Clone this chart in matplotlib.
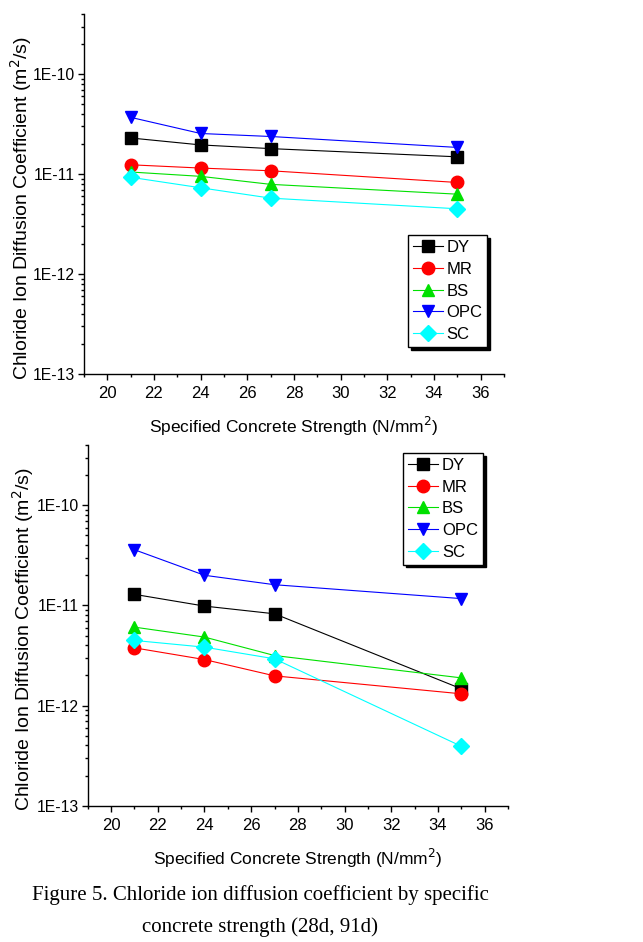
import matplotlib
matplotlib.use("Agg")
import matplotlib.pyplot as plt
from matplotlib.ticker import FixedLocator, FixedFormatter, LogLocator, NullFormatter, MultipleLocator

strength = [21, 24, 27, 35]
series_names = ["DY", "MR", "BS", "OPC", "SC"]

# 28 days
dy_28 = [2.30e-11, 1.96e-11, 1.80e-11, 1.49e-11]
mr_28 = [1.24e-11, 1.15e-11, 1.08e-11, 8.25e-12]
bs_28 = [1.05e-11, 9.50e-12, 7.90e-12, 6.30e-12]
opc_28 = [3.70e-11, 2.55e-11, 2.38e-11, 1.85e-11]
sc_28 = [9.30e-12, 7.30e-12, 5.75e-12, 4.50e-12]

# 91 days
dy_91 = [1.29e-11, 9.85e-12, 8.25e-12, 1.47e-12]
mr_91 = [3.77e-12, 2.88e-12, 1.98e-12, 1.31e-12]
bs_91 = [6.07e-12, 4.83e-12, 3.16e-12, 1.89e-12]
opc_91 = [3.60e-11, 2.00e-11, 1.61e-11, 1.17e-11]
sc_91 = [4.47e-12, 3.83e-12, 2.93e-12, 3.92e-13]

y_ticks = [1e-13, 1e-12, 1e-11, 1e-10]
y_tick_labels = ["1E-13", "1E-12", "1E-11", "1E-10"]
x_ticks = [20, 22, 24, 26, 28, 30, 32, 34, 36]

colors = ["#000000", "#ff0000", "#00e000", "#0000ff", "#00ffff"]
markers = ["s", "o", "^", "v", "D"]
msizes = [8, 9, 9, 9, 8]

plt.rcParams['font.family'] = ['Liberation Sans', 'DejaVu Sans']

fig = plt.figure(figsize=(6.43, 9.42), dpi=100)
ax1 = fig.add_axes([0.1306, 0.603, 0.6532, 0.3821])
ax2 = fig.add_axes([0.1364, 0.1447, 0.6537, 0.3829])
W, H = 643.0, 942.0


def draw(ax, data, legend_kw, ylab_xy):
    for vals, name, c, m, ms in zip(data, series_names, colors, markers, msizes):
        ax.plot(strength, vals, color=c, lw=0.8, marker=m, markersize=ms,
                markerfacecolor=c, markeredgecolor=c, label=name)
    ax.set_yscale('log')
    ax.set_ylim(1e-13, 4e-10)
    ax.set_xlim(19, 37)
    ax.yaxis.set_major_locator(FixedLocator(y_ticks))
    ax.yaxis.set_major_formatter(FixedFormatter(y_tick_labels))
    ax.yaxis.set_minor_locator(LogLocator(base=10, subs=range(2, 10)))
    ax.yaxis.set_minor_formatter(NullFormatter())
    ax.xaxis.set_major_locator(FixedLocator(x_ticks))
    ax.xaxis.set_minor_locator(MultipleLocator(1))
    for s in ['top', 'right']:
        ax.spines[s].set_visible(False)
    for s in ['left', 'bottom']:
        ax.spines[s].set_linewidth(1.0)
    ax.tick_params(which='major', direction='out', length=4, width=1, labelsize=12)
    ax.tick_params(axis='y', which='major', pad=2.5, labelsize=11.3)
    ax.tick_params(axis='x', which='major', pad=5)
    ax.tick_params(which='minor', direction='out', length=2.5, width=1)
    ax.set_xlabel("Specified Concrete Strength (N/mm$^2$)", fontsize=12.5, labelpad=10)
    fig.text(ylab_xy[0] / W, 1 - ylab_xy[1] / H,
             "Chloride Ion Diffusion Coefficient (m$^2$/s)", fontsize=14,
             rotation=90, ha='center', va='center')
    leg = ax.legend(frameon=True, fancybox=False, edgecolor='black', framealpha=1,
                    fontsize=12, handlelength=1.8, handletextpad=0.2, borderpad=0.3,
                    labelspacing=0.4, borderaxespad=0,
                    shadow={'color': 'black', 'alpha': 1}, **legend_kw)
    leg.get_frame().set_linewidth(1.0)


draw(ax1, [dy_28, mr_28, bs_28, opc_28, sc_28],
     dict(loc='lower right', bbox_to_anchor=(0.96, 0.075)), (21, 208))
draw(ax2, [dy_91, mr_91, bs_91, opc_91, sc_91],
     dict(loc='upper right', bbox_to_anchor=(0.94, 0.978)), (23, 639))

fig.text(0.405, 0.05, "Figure 5. Chloride ion diffusion coefficient by specific",
         ha='center', va='center', fontsize=15, family='Liberation Serif')
fig.text(0.405, 0.016, "concrete strength (28d, 91d)",
         ha='center', va='center', fontsize=15, family='Liberation Serif')

fig.savefig("out.png", dpi=100)
